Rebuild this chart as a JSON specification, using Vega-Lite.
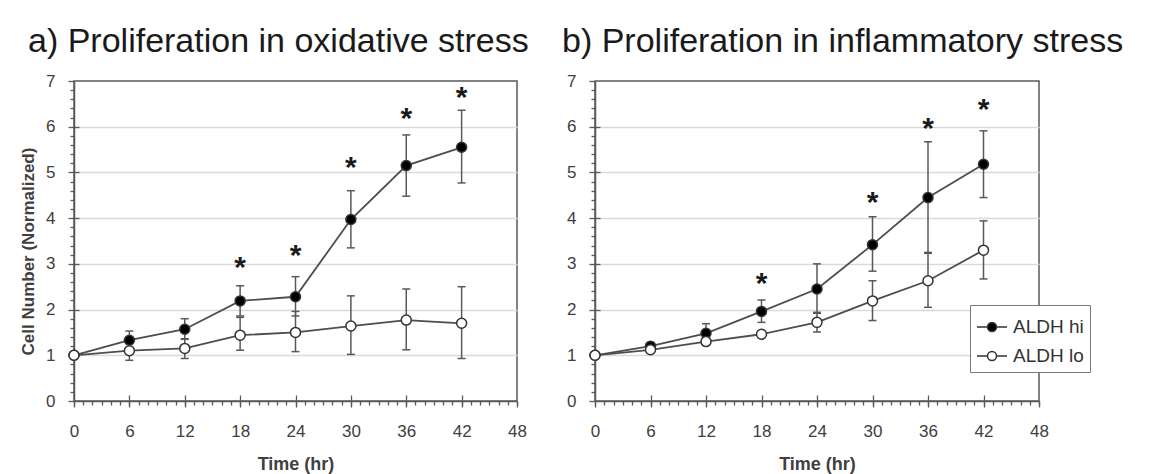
{
  "$schema": "https://vega.github.io/schema/vega-lite/v6.json",
  "padding": {"left": 18, "top": 24, "right": 5, "bottom": 5},
  "background": "white",
  "spacing": 78,
  "bounds": "flush",
  "datasets": {
    "a": [
      {"t": 0, "series": "ALDH hi", "mean": 1.0, "lo": null, "hi": null},
      {"t": 6, "series": "ALDH hi", "mean": 1.33, "lo": 1.13, "hi": 1.53},
      {"t": 12, "series": "ALDH hi", "mean": 1.57, "lo": 1.35, "hi": 1.80},
      {"t": 18, "series": "ALDH hi", "mean": 2.19, "lo": 1.86, "hi": 2.52},
      {"t": 24, "series": "ALDH hi", "mean": 2.28, "lo": 1.86, "hi": 2.72},
      {"t": 30, "series": "ALDH hi", "mean": 3.97, "lo": 3.35, "hi": 4.60},
      {"t": 36, "series": "ALDH hi", "mean": 5.15, "lo": 4.48, "hi": 5.82},
      {"t": 42, "series": "ALDH hi", "mean": 5.55, "lo": 4.77, "hi": 6.36},
      {"t": 0, "series": "ALDH lo", "mean": 1.0, "lo": null, "hi": null},
      {"t": 6, "series": "ALDH lo", "mean": 1.10, "lo": 0.89, "hi": 1.30},
      {"t": 12, "series": "ALDH lo", "mean": 1.15, "lo": 0.93, "hi": 1.36},
      {"t": 18, "series": "ALDH lo", "mean": 1.44, "lo": 1.11, "hi": 1.83},
      {"t": 24, "series": "ALDH lo", "mean": 1.50, "lo": 1.08, "hi": 1.96},
      {"t": 30, "series": "ALDH lo", "mean": 1.64, "lo": 1.02, "hi": 2.30},
      {"t": 36, "series": "ALDH lo", "mean": 1.77, "lo": 1.12, "hi": 2.45},
      {"t": 42, "series": "ALDH lo", "mean": 1.70, "lo": 0.93, "hi": 2.50}
    ],
    "b": [
      {"t": 0, "series": "ALDH hi", "mean": 1.0, "lo": null, "hi": null},
      {"t": 6, "series": "ALDH hi", "mean": 1.20, "lo": 1.13, "hi": 1.27},
      {"t": 12, "series": "ALDH hi", "mean": 1.48, "lo": 1.29, "hi": 1.69},
      {"t": 18, "series": "ALDH hi", "mean": 1.96, "lo": 1.72, "hi": 2.21},
      {"t": 24, "series": "ALDH hi", "mean": 2.45, "lo": 1.94, "hi": 3.00},
      {"t": 30, "series": "ALDH hi", "mean": 3.42, "lo": 2.84, "hi": 4.03},
      {"t": 36, "series": "ALDH hi", "mean": 4.45, "lo": 3.23, "hi": 5.67},
      {"t": 42, "series": "ALDH hi", "mean": 5.18, "lo": 4.45, "hi": 5.91},
      {"t": 0, "series": "ALDH lo", "mean": 1.0, "lo": null, "hi": null},
      {"t": 6, "series": "ALDH lo", "mean": 1.12, "lo": 1.07, "hi": 1.18},
      {"t": 12, "series": "ALDH lo", "mean": 1.30, "lo": 1.22, "hi": 1.37},
      {"t": 18, "series": "ALDH lo", "mean": 1.46, "lo": 1.40, "hi": 1.53},
      {"t": 24, "series": "ALDH lo", "mean": 1.72, "lo": 1.51, "hi": 1.92},
      {"t": 30, "series": "ALDH lo", "mean": 2.19, "lo": 1.76, "hi": 2.63},
      {"t": 36, "series": "ALDH lo", "mean": 2.63, "lo": 2.05, "hi": 3.25},
      {"t": 42, "series": "ALDH lo", "mean": 3.30, "lo": 2.67, "hi": 3.94}
    ],
    "starsA": [
      {"t": 18, "y": 3.07}, {"t": 24, "y": 3.32}, {"t": 30, "y": 5.24}, {"t": 36, "y": 6.33}, {"t": 42, "y": 6.79}
    ],
    "starsB": [
      {"t": 18, "y": 2.72}, {"t": 30, "y": 4.49}, {"t": 36, "y": 6.10}, {"t": 42, "y": 6.52}
    ]
  },
  "hconcat": [
    {
      "width": 443,
      "height": 320,
      "title": {"text": "a) Proliferation in oxidative stress", "anchor": "start", "frame": "group", "dx": -46, "fontSize": 34, "fontWeight": "normal", "font": "Liberation Sans", "color": "#1a1a1a", "offset": 13},
      "data": {"name": "a"},
      "layer": [
        {
          "mark": {"type": "rule", "color": "#595959", "strokeWidth": 1.5},
          "encoding": {
            "x": {"field": "t", "type": "quantitative", "scale": {"domain": [0, 48], "nice": false, "zero": false},
                  "axis": {"orient": "bottom", "values": [0, 6, 12, 18, 24, 30, 36, 42, 48], "title": "Time (hr)", "titleFontSize": 18, "titleFontWeight": "bold", "titlePadding": 16, "labelFontSize": 17, "tickSize": 6, "labelPadding": 16, "grid": false, "labelFlush": false, "labelOverlap": false}},
            "y": {"field": "lo", "type": "quantitative", "scale": {"domain": [0, 7], "nice": false},
                  "axis": {"orient": "left", "values": [0, 1, 2, 3, 4, 5, 6, 7], "title": "Cell Number (Normalized)", "titleFontSize": 17, "titleFontWeight": "bold", "titlePadding": 8, "titleY": 170, "labelFontSize": 17, "tickSize": 6, "labelPadding": 13, "grid": false, "labelFlush": false, "labelOverlap": false}},
            "y2": {"field": "hi"}
          }
        },
        {
          "mark": {"type": "tick", "orient": "horizontal", "size": 8, "thickness": 1.5, "color": "#595959", "opacity": 1},
          "encoding": {
            "x": {"field": "t", "type": "quantitative", "axis": {"orient": "bottom", "values": [0,1,2,3,4,5,6,7,8,9,10,11,12,13,14,15,16,17,18,19,20,21,22,23,24,25,26,27,28,29,30,31,32,33,34,35,36,37,38,39,40,41,42,43,44,45,46,47,48], "labels": false, "domain": false, "grid": false, "tickSize": 4, "title": null}},
            "y": {"field": "lo", "type": "quantitative", "axis": {"orient": "left", "values": [0.2,0.4,0.6,0.8,1.2,1.4,1.6,1.8,2.2,2.4,2.6,2.8,3.2,3.4,3.6,3.8,4.2,4.4,4.6,4.8,5.2,5.4,5.6,5.8,6.2,6.4,6.6,6.8], "labels": false, "domain": false, "grid": false, "tickSize": 4, "title": null}}
          }
        },
        {
          "mark": {"type": "tick", "orient": "horizontal", "size": 8, "thickness": 1.5, "color": "#595959", "opacity": 1},
          "encoding": {
            "x": {"field": "t", "type": "quantitative", "axis": {"orient": "bottom", "values": [6, 12, 18, 24, 30, 36, 42], "labels": false, "domain": false, "grid": false, "tickSize": -6, "title": null}},
            "y": {"field": "hi", "type": "quantitative", "axis": {"orient": "left", "values": [1, 2, 3, 4, 5, 6], "labels": false, "domain": false, "grid": true, "gridColor": "#d9d9d9", "gridWidth": 1.5, "tickSize": -5, "title": null}}
          }
        },
        {
          "mark": {"type": "line", "color": "#4d4d4d", "strokeWidth": 1.8},
          "encoding": {
            "x": {"field": "t", "type": "quantitative", "axis": null},
            "y": {"field": "mean", "type": "quantitative", "axis": null},
            "detail": {"field": "series"}
          }
        },
        {
          "mark": {"type": "circle", "size": 100, "stroke": "#333333", "strokeWidth": 1.5, "opacity": 1},
          "encoding": {
            "x": {"field": "t", "type": "quantitative", "axis": null},
            "y": {"field": "mean", "type": "quantitative", "axis": null},
            "fill": {"field": "series", "type": "nominal", "scale": {"domain": ["ALDH hi", "ALDH lo"], "range": ["#000000", "#ffffff"]}, "legend": null}
          }
        },
        {
          "data": {"name": "starsA"},
          "mark": {"type": "text", "text": "*", "fontSize": 30, "fontWeight": "bold", "font": "Liberation Sans", "baseline": "alphabetic", "dy": 16, "color": "#1a1a1a"},
          "encoding": {
            "x": {"field": "t", "type": "quantitative", "axis": null},
            "y": {"field": "y", "type": "quantitative", "axis": null}
          }
        }
      ],
      "resolve": {"axis": {"x": "independent", "y": "independent"}}
    },
    {
      "width": 444,
      "height": 320,
      "title": {"text": "b) Proliferation in inflammatory stress", "anchor": "start", "frame": "group", "dx": -33, "fontSize": 34, "fontWeight": "normal", "font": "Liberation Sans", "color": "#1a1a1a", "offset": 13},
      "data": {"name": "b"},
      "layer": [
        {
          "mark": {"type": "rule", "color": "#595959", "strokeWidth": 1.5},
          "encoding": {
            "x": {"field": "t", "type": "quantitative", "scale": {"domain": [0, 48], "nice": false, "zero": false},
                  "axis": {"orient": "bottom", "values": [0, 6, 12, 18, 24, 30, 36, 42, 48], "title": "Time (hr)", "titleFontSize": 18, "titleFontWeight": "bold", "titlePadding": 16, "labelFontSize": 17, "tickSize": 6, "labelPadding": 16, "grid": false, "labelFlush": false, "labelOverlap": false}},
            "y": {"field": "lo", "type": "quantitative", "scale": {"domain": [0, 7], "nice": false},
                  "axis": {"orient": "left", "values": [0, 1, 2, 3, 4, 5, 6, 7], "title": null, "labelFontSize": 17, "tickSize": 6, "labelPadding": 13, "grid": false, "labelFlush": false, "labelOverlap": false}},
            "y2": {"field": "hi"}
          }
        },
        {
          "mark": {"type": "tick", "orient": "horizontal", "size": 8, "thickness": 1.5, "color": "#595959", "opacity": 1},
          "encoding": {
            "x": {"field": "t", "type": "quantitative", "axis": {"orient": "bottom", "values": [0,1,2,3,4,5,6,7,8,9,10,11,12,13,14,15,16,17,18,19,20,21,22,23,24,25,26,27,28,29,30,31,32,33,34,35,36,37,38,39,40,41,42,43,44,45,46,47,48], "labels": false, "domain": false, "grid": false, "tickSize": 4, "title": null}},
            "y": {"field": "lo", "type": "quantitative", "axis": {"orient": "left", "values": [0.2,0.4,0.6,0.8,1.2,1.4,1.6,1.8,2.2,2.4,2.6,2.8,3.2,3.4,3.6,3.8,4.2,4.4,4.6,4.8,5.2,5.4,5.6,5.8,6.2,6.4,6.6,6.8], "labels": false, "domain": false, "grid": false, "tickSize": 4, "title": null}}
          }
        },
        {
          "mark": {"type": "tick", "orient": "horizontal", "size": 8, "thickness": 1.5, "color": "#595959", "opacity": 1},
          "encoding": {
            "x": {"field": "t", "type": "quantitative", "axis": {"orient": "bottom", "values": [6, 12, 18, 24, 30, 36, 42], "labels": false, "domain": false, "grid": false, "tickSize": -6, "title": null}},
            "y": {"field": "hi", "type": "quantitative", "axis": {"orient": "left", "values": [1, 2, 3, 4, 5, 6], "labels": false, "domain": false, "grid": true, "gridColor": "#d9d9d9", "gridWidth": 1.5, "tickSize": -5, "title": null}}
          }
        },
        {
          "mark": {"type": "line", "color": "#4d4d4d", "strokeWidth": 1.8},
          "encoding": {
            "x": {"field": "t", "type": "quantitative", "axis": null},
            "y": {"field": "mean", "type": "quantitative", "axis": null},
            "detail": {"field": "series"}
          }
        },
        {
          "mark": {"type": "circle", "size": 100, "stroke": "#333333", "strokeWidth": 1.5, "opacity": 1},
          "encoding": {
            "x": {"field": "t", "type": "quantitative", "axis": null},
            "y": {"field": "mean", "type": "quantitative", "axis": null},
            "fill": {"field": "series", "type": "nominal", "scale": {"domain": ["ALDH hi", "ALDH lo"], "range": ["#000000", "#ffffff"]},
                     "legend": {"title": null, "orient": "none", "legendX": 375, "legendY": 224, "symbolType": "M-1,0L-0.3,0M0.3,0L1,0M0.3,0A0.3,0.3,0,1,1,-0.3,0A0.3,0.3,0,1,1,0.3,0Z", "symbolSize": 900, "symbolStrokeColor": "#333333", "symbolStrokeWidth": 1.5, "symbolOpacity": 1, "labelFontSize": 19, "labelFont": "Liberation Sans", "labelColor": "#333333", "labelOffset": 5, "rowPadding": 3, "padding": 6, "strokeColor": "#7a7a7a", "fillColor": "#ffffff"}}
          }
        },
        {
          "data": {"name": "starsB"},
          "mark": {"type": "text", "text": "*", "fontSize": 30, "fontWeight": "bold", "font": "Liberation Sans", "baseline": "alphabetic", "dy": 16, "color": "#1a1a1a"},
          "encoding": {
            "x": {"field": "t", "type": "quantitative", "axis": null},
            "y": {"field": "y", "type": "quantitative", "axis": null}
          }
        }
      ],
      "resolve": {"axis": {"x": "independent", "y": "independent"}}
    }
  ],
  "resolve": {"scale": {"fill": "independent"}, "legend": {"fill": "independent"}},
  "config": {
    "font": "Liberation Sans",
    "view": {"stroke": "#595959", "strokeWidth": 1.5},
    "axis": {"labelFont": "Liberation Sans", "titleFont": "Liberation Sans", "labelColor": "#404040", "titleColor": "#404040", "domainColor": "#595959", "domainWidth": 1.5, "tickColor": "#595959", "tickWidth": 1.3}
  }
}
